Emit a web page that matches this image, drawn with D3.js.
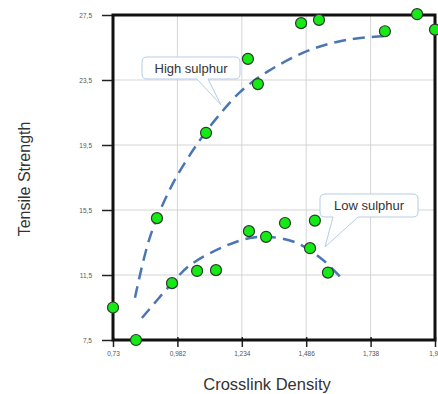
<!DOCTYPE html>
<html>
<head>
  <meta charset="utf-8">
  <title>Tensile Strength vs Crosslink Density</title>
  <script src="https://cdn.jsdelivr.net/npm/d3@7"></script>
  <style>
    body { margin: 0; background: #fff; }
    svg { display: block; font-family: "Liberation Sans", Arial, sans-serif; }
  </style>
</head>
<body>
<script>
  // size of the picture
  const w = 438;
  const h = 394;

  // data
  const densities = [0.73, 0.82, 0.902, 0.961, 1.059, 1.133, 1.094, 1.258, 1.297, 1.262,
                     1.329, 1.403, 1.466, 1.536, 1.52, 1.501, 1.571, 1.794, 1.92, 1.99];
  const strengths = [9.5, 7.5, 15.0, 11.0, 11.75, 11.8, 20.25, 24.8, 23.25, 14.2,
                     13.85, 14.7, 27.0, 27.2, 14.85, 13.15, 11.65, 26.5, 27.55, 26.6];

  // dashed trend lines (hand read)
  const highX = [0.816, 0.875, 0.965, 1.07, 1.138, 1.227, 1.333, 1.501, 1.657, 1.794];
  const highY = [10.1, 13.85, 17.15, 19.8, 21.2, 22.75, 24.0, 25.35, 26.0, 26.2];
  const lowX = [0.843, 0.961, 1.031, 1.16, 1.266, 1.344, 1.45, 1.552, 1.63];
  const lowY = [8.85, 11.0, 12.1, 13.22, 13.78, 13.84, 13.47, 12.42, 11.2];

  const xTicks = [0.73, 0.982, 1.234, 1.486, 1.738, 1.99];
  const yTicks = [7.5, 11.5, 15.5, 19.5, 23.5, 27.5];

  const commaFmt = d => String(d).replace(".", ",");

  const xScale = d3.scaleLinear().domain([0.73, 1.99]).range([113, 435]);
  const yScale = d3.scaleLinear().domain([7.5, 27.5]).range([340, 15]);

  const svg = d3.select("body").append("svg")
    .attr("width", w)
    .attr("height", h);

  // grid
  svg.append("g").selectAll("line.v")
    .data(xTicks).enter().append("line")
    .attr("x1", d => xScale(d)).attr("x2", d => xScale(d))
    .attr("y1", 15).attr("y2", 340)
    .attr("stroke", "#d4d4d4").attr("stroke-width", 1);
  svg.append("g").selectAll("line.h")
    .data(yTicks).enter().append("line")
    .attr("x1", 113).attr("x2", 435)
    .attr("y1", d => yScale(d)).attr("y2", d => yScale(d))
    .attr("stroke", "#d4d4d4").attr("stroke-width", 1);

  // axes
  const xAxis = d3.axisBottom(xScale).tickValues(xTicks).tickFormat(commaFmt)
    .tickSize(7).tickSizeOuter(0).tickPadding(4);
  const yAxis = d3.axisLeft(yScale).tickValues(yTicks).tickFormat(commaFmt)
    .tickSize(11).tickSizeOuter(0).tickPadding(10);

  const gx = svg.append("g").attr("transform", "translate(0,340)").call(xAxis);
  const gy = svg.append("g").attr("transform", "translate(113,0)").call(yAxis);
  [gx, gy].forEach(g => {
    g.select(".domain").remove();
    g.selectAll(".tick line").attr("stroke", "#222").attr("stroke-width", 1.5);
    g.selectAll(".tick text").attr("fill", "#555").style("font-size", "6.5px")
      .style("font-family", "'Liberation Sans', Arial, sans-serif");
  });
  gx.selectAll(".tick line").attr("y1", -3);

  // frame
  svg.append("rect")
    .attr("x", xScale(0.73)).attr("y", yScale(27.5))
    .attr("width", xScale(1.99) - xScale(0.73))
    .attr("height", yScale(7.5) - yScale(27.5))
    .attr("fill", "none").attr("stroke", "#111").attr("stroke-width", 3);

  // trend lines
  const line = d3.line()
    .x(d => xScale(d[0])).y(d => yScale(d[1]))
    .curve(d3.curveCatmullRom);
  [[highX, highY], [lowX, lowY]].forEach(([xs, ys]) => {
    svg.append("path")
      .datum(xs.map((x, i) => [x, ys[i]]))
      .attr("d", line)
      .attr("fill", "none")
      .attr("stroke", "#4a76b4")
      .attr("stroke-width", 2.5)
      .attr("stroke-dasharray", "12,7");
  });

  // points
  svg.append("g").selectAll("circle")
    .data(densities.map((x, i) => [x, strengths[i]]))
    .enter().append("circle")
    .attr("cx", d => xScale(d[0]))
    .attr("cy", d => yScale(d[1]))
    .attr("r", 5.5)
    .attr("fill", "#16ea16")
    .attr("stroke", "#2a3a2a")
    .attr("stroke-width", 1.2);

  // callouts
  function callout(x, y, bw, bh, t1, t2, tip, label) {
    const r = 5;
    const p = d3.path();
    p.moveTo(x + r, y);
    p.lineTo(x + bw - r, y);
    p.quadraticCurveTo(x + bw, y, x + bw, y + r);
    p.lineTo(x + bw, y + bh - r);
    p.quadraticCurveTo(x + bw, y + bh, x + bw - r, y + bh);
    p.lineTo(t2, y + bh);
    p.lineTo(tip[0], tip[1]);
    p.lineTo(t1, y + bh);
    p.lineTo(x + r, y + bh);
    p.quadraticCurveTo(x, y + bh, x, y + bh - r);
    p.lineTo(x, y + r);
    p.quadraticCurveTo(x, y, x + r, y);
    p.closePath();
    svg.append("path").attr("d", p.toString())
      .attr("fill", "#fff").attr("stroke", "#b5cde6").attr("stroke-width", 1);
    svg.append("text")
      .attr("x", x + bw / 2).attr("y", y + bh / 2 + 4.5)
      .attr("text-anchor", "middle")
      .attr("fill", "#333").style("font-size", "13px")
      .text(label);
  }
  callout(142, 57, 98, 22, 197, 208, [221, 105], "High sulphur");
  callout(320, 194, 98, 23, 333, 358, [325, 247], "Low sulphur");

  // axis titles
  svg.append("text")
    .attr("transform", "translate(30,179) rotate(-90)")
    .attr("text-anchor", "middle")
    .attr("fill", "#333").style("font-size", "16px")
    .text("Tensile Strength");
  svg.append("text")
    .attr("x", 267).attr("y", 390)
    .attr("text-anchor", "middle")
    .attr("fill", "#333").style("font-size", "16.5px")
    .text("Crosslink Density");
</script>
</body>
</html>
